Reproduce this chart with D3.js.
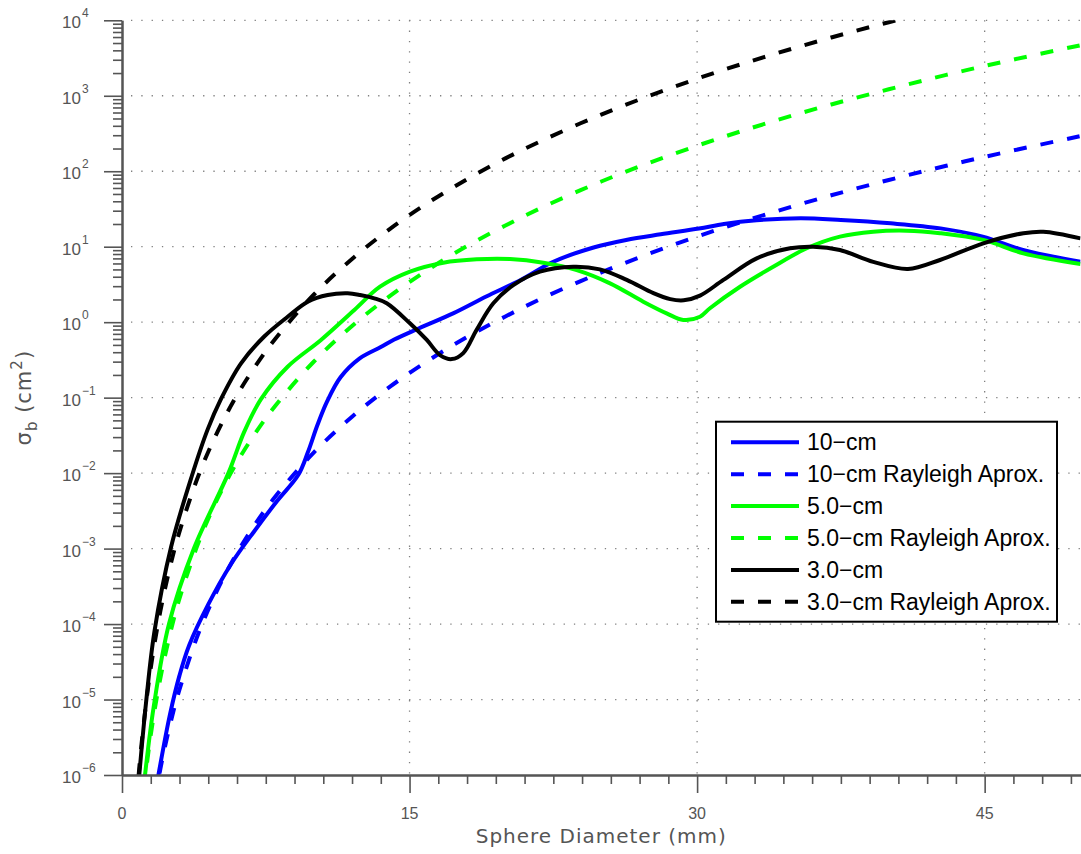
<!DOCTYPE html>
<html>
<head>
<meta charset="utf-8">
<script src="https://cdn.jsdelivr.net/npm/d3@7"></script>
<style>
  html, body { margin: 0; padding: 0; background: #fff; }
  svg { display: block; }
</style>
</head>
<body>
<svg id="chart" width="1081" height="854"></svg>
<script>
// Backscattering cross section of water spheres: Mie solution vs Rayleigh approximation

// Mie solution, 10-cm wavelength
const mieD10 = [1.5, 1.9, 2.5, 3.0, 3.5, 4.5, 5.7, 6.9, 8.1, 9.2, 9.7, 10.2, 10.7, 11.4, 12.4, 13.5, 14.2, 15.5, 17.3, 19.0, 20.8, 22.5, 24.6, 26.3, 28.1, 30.1, 31.4, 33.1, 35.4, 37.5, 40.1, 42.7, 44.9, 47.0, 50.0];
const mieSigma10 = [2.5e-7, 1.0e-6, 6.3e-6, 2.09e-5, 5.2e-5, 1.82e-4, 6.3e-4, 1.70e-3, 4.3e-3, 9.5e-3, 0.0190, 0.0437, 0.0891, 0.186, 0.331, 0.468, 0.589, 0.832, 1.32, 2.19, 3.63, 6.31, 9.77, 12.3, 14.6, 17.4, 20.0, 22.4, 23.8, 22.6, 20.4, 17.5, 13.6, 9.04, 6.31];

// Mie solution, 5.0-cm wavelength
const mieD5 = [1.0, 1.2, 1.65, 2.45, 3.75, 5.55, 6.38, 7.25, 8.64, 10.38, 12.12, 13.46, 15.02, 16.76, 18.5, 20.24, 21.98, 23.72, 25.46, 27.19, 28.41, 29.28, 30.15, 30.67, 32.24, 33.97, 35.72, 37.45, 39.19, 40.93, 42.67, 44.93, 47.02, 50.0];
const mieSigma5 = [3.2e-7, 1.0e-6, 7.9e-6, 1.0e-4, 1.0e-3, 0.0100, 0.0355, 0.0955, 0.257, 0.581, 1.45, 2.95, 4.67, 6.14, 6.81, 6.87, 6.14, 4.90, 3.27, 1.87, 1.31, 1.07, 1.18, 1.53, 2.95, 5.43, 9.53, 13.6, 15.8, 16.3, 15.1, 12.3, 8.17, 5.89];

// Mie solution, 3.0-cm wavelength
const mieD3 = [0.7, 0.9, 1.25, 1.69, 2.56, 3.65, 4.47, 5.16, 6.21, 7.42, 8.64, 9.69, 10.73, 11.77, 12.42, 13.16, 13.81, 15.02, 15.9, 16.59, 17.2, 17.8, 18.5, 19.37, 20.41, 21.8, 23.54, 24.93, 26.33, 27.72, 28.6, 29.3, 30.15, 31.37, 33.11, 34.85, 36.06, 37.45, 39.19, 41.0, 42.67, 44.93, 47.02, 48.06, 50.0];
const mieSigma3 = [2.5e-7, 1.0e-6, 8.9e-6, 7.9e-5, 1.05e-3, 9.3e-3, 0.038, 0.0955, 0.285, 0.646, 1.18, 1.87, 2.29, 2.41, 2.29, 2.07, 1.78, 0.966, 0.581, 0.367, 0.324, 0.389, 0.794, 1.78, 3.09, 4.67, 5.43, 5.01, 3.63, 2.42, 2.02, 1.95, 2.25, 3.63, 7.01, 9.53, 10.0, 9.04, 6.31, 5.07, 6.67, 11.1, 15.1, 15.8, 12.9];

// Rayleigh approximation, sampled on a shared diameter grid (mm)
const rayleighD = [0.5, 0.7, 1, 1.5, 2, 2.5, 3, 4, 5, 6, 7, 8, 10, 12, 14, 16, 18, 20, 22, 25, 28, 31, 34, 37, 40, 43, 46, 50];
const raySigma10 = [2.92e-10, 2.20e-9, 1.87e-8, 2.13e-7, 1.20e-6, 4.56e-6, 1.36e-5, 7.66e-5, 2.92e-4, 8.73e-4, 2.20e-3, 4.90e-3, 0.0187, 0.0558, 0.141, 0.313, 0.635, 1.19, 2.12, 4.56, 9.02, 16.6, 28.8, 48.0, 76.6, 118, 177, 292];
const raySigma5 = [4.68e-9, 3.52e-8, 2.99e-7, 3.40e-6, 1.91e-5, 7.29e-5, 2.18e-4, 1.22e-3, 4.68e-3, 0.0140, 0.0352, 0.0783, 0.299, 0.893, 2.25, 5.02, 10.2, 19.1, 33.9, 73.1, 144, 265, 462, 767, 1220, 1890, 2830, 4670];
const raySigma3 = [3.61e-8, 2.72e-7, 2.31e-6, 2.62e-5, 1.48e-4, 5.62e-4, 1.68e-3, 9.44e-3, 0.0361, 0.108, 0.271, 0.604, 2.31, 6.89, 17.4, 38.7, 78.3, 148, 261, 564, 1110, 2050, 3560, 5920, 9440, 14600, 21800, 36000];

// Axis ticks
const xMajorTicks = [0, 15, 30, 45];
const xMinorStep = 1.5;
const yDecadeExponents = [-6, -5, -4, -3, -2, -1, 0, 1, 2, 3, 4];

const seriesNames = ["10\u2212cm", "10\u2212cm Rayleigh Aprox.", "5.0\u2212cm", "5.0\u2212cm Rayleigh Aprox.", "3.0\u2212cm", "3.0\u2212cm Rayleigh Aprox."];
const seriesColors = ["#0000ff", "#0000ff", "#00ff00", "#00ff00", "#000000", "#000000"];
const seriesDashed = [false, true, false, true, false, true];

const series = [
  { x: mieD10, y: mieSigma10 },
  { x: rayleighD, y: raySigma10 },
  { x: mieD5, y: mieSigma5 },
  { x: rayleighD, y: raySigma5 },
  { x: mieD3, y: mieSigma3 },
  { x: rayleighD, y: raySigma3 }
].map((s, i) => ({
  name: seriesNames[i], color: seriesColors[i], dashed: seriesDashed[i],
  points: s.x.map((d, j) => [d, s.y[j]])
}));

const svg = d3.select("#chart");
const plotLeft = 122, plotRight = 1080.5, plotTop = 20.3, plotBottom = 775;

const x = d3.scaleLinear().domain([0, 50]).range([plotLeft, plotRight]);
const y = d3.scaleLog().domain([1e-6, 1e4]).range([plotBottom, plotTop]);

const axisColor = "#555555";
const tickFont = "'Liberation Sans', Arial, sans-serif";
const titleFont = "'DejaVu Sans', sans-serif";
const DASH = "13,14";

// Dotted grid
const grid = svg.append("g").attr("stroke", "#808080").attr("stroke-width", 1.3)
  .attr("stroke-dasharray", "1.3,9");
yDecadeExponents.slice(1).forEach(e => {
  grid.append("line").attr("x1", plotLeft + 9).attr("x2", plotRight)
    .attr("y1", y(Math.pow(10, e))).attr("y2", y(Math.pow(10, e)));
});
xMajorTicks.slice(1).forEach(v => {
  grid.append("line").attr("x1", x(v)).attr("x2", x(v))
    .attr("y1", plotTop).attr("y2", plotBottom);
});

// Curves
svg.append("defs").append("clipPath").attr("id", "plotClip")
  .append("rect").attr("x", plotLeft).attr("y", plotTop)
  .attr("width", plotRight - plotLeft).attr("height", plotBottom - plotTop);

const line = d3.line()
  .x(d => x(d[0]))
  .y(d => y(d[1]))
  .curve(d3.curveCatmullRom.alpha(0.5));

const curves = svg.append("g").attr("clip-path", "url(#plotClip)");
series.forEach(s => {
  curves.append("path")
    .attr("d", line(s.points))
    .attr("fill", "none")
    .attr("stroke", s.color)
    .attr("stroke-width", 4)
    .attr("stroke-linejoin", "round")
    .attr("stroke-dasharray", s.dashed ? DASH : null);
});

// Y axis
const yMinor = [];
yDecadeExponents.slice(0, -1).forEach(e => {
  for (let m = 2; m <= 9; m++) yMinor.push(m * Math.pow(10, e));
});
const yAxisMajor = svg.append("g").attr("transform", `translate(${plotLeft},0)`)
  .call(d3.axisLeft(y).tickValues(yDecadeExponents.map(e => Math.pow(10, e)))
    .tickSize(18).tickSizeOuter(0).tickFormat(""));
const yAxisMinor = svg.append("g").attr("transform", `translate(${plotLeft},0)`)
  .call(d3.axisLeft(y).tickValues(yMinor).tickSize(9).tickSizeOuter(0).tickFormat(""));

// X axis
const xMinor = d3.range(0, 50 + 1e-9, xMinorStep).filter(v => !xMajorTicks.includes(v) && v < 50);
const xAxisMajor = svg.append("g").attr("transform", `translate(0,${plotBottom})`)
  .call(d3.axisBottom(x).tickValues(xMajorTicks).tickSize(18).tickSizeOuter(0).tickFormat(""));
const xAxisMinor = svg.append("g").attr("transform", `translate(0,${plotBottom})`)
  .call(d3.axisBottom(x).tickValues(xMinor).tickSize(9).tickSizeOuter(0).tickFormat(""));

[yAxisMajor, yAxisMinor, xAxisMajor, xAxisMinor].forEach(g => {
  g.selectAll("line").attr("stroke", axisColor).attr("stroke-width", 1.6);
  g.select(".domain").attr("stroke", axisColor).attr("stroke-width", 2);
});

// Tick labels
xMajorTicks.forEach(v => {
  svg.append("text").attr("x", x(v)).attr("y", 819)
    .attr("text-anchor", "middle").attr("font-family", tickFont)
    .attr("font-size", 16).attr("fill", axisColor).text(v);
});
yDecadeExponents.forEach(e => {
  const t = svg.append("text").attr("x", 62).attr("y", y(Math.pow(10, e)) + 8)
    .attr("font-family", tickFont).attr("font-size", 17).attr("fill", axisColor);
  t.append("tspan").text("10");
  t.append("tspan").attr("dy", -11).attr("dx", 1).attr("font-size", 12)
    .text(e < 0 ? "\u2212" + (-e) : String(e));
});

// Axis titles
svg.append("text").attr("x", (plotLeft + plotRight) / 2).attr("y", 843)
  .attr("text-anchor", "middle").attr("font-family", titleFont)
  .attr("font-size", 20).attr("letter-spacing", 1).attr("fill", axisColor)
  .text("Sphere Diameter (mm)");

const yTitle = svg.append("text")
  .attr("transform", `translate(31,${(plotTop + plotBottom) / 2}) rotate(-90)`)
  .attr("text-anchor", "middle").attr("font-family", titleFont)
  .attr("font-size", 21).attr("letter-spacing", 1).attr("fill", axisColor);
yTitle.append("tspan").text("\u03c3");
yTitle.append("tspan").attr("dy", 6).attr("font-size", 15).text("b");
yTitle.append("tspan").attr("dy", -6).text(" (cm");
yTitle.append("tspan").attr("dy", -9).attr("font-size", 15).text("2");
yTitle.append("tspan").attr("dy", 9).text(")");

// Legend
const legend = svg.append("g");
legend.append("rect").attr("x", 716).attr("y", 421.7).attr("width", 341).attr("height", 200)
  .attr("fill", "#fff").attr("stroke", "#000").attr("stroke-width", 2);
series.forEach((s, i) => {
  const cy = 442.3 + i * 31.9;
  legend.append("line").attr("x1", 731).attr("x2", 799).attr("y1", cy).attr("y2", cy)
    .attr("stroke", s.color).attr("stroke-width", 4)
    .attr("stroke-dasharray", s.dashed ? DASH : null);
  legend.append("text").attr("x", 807).attr("y", cy + 8)
    .attr("font-family", "'Liberation Sans', Arial, sans-serif").attr("font-size", 23)
    .attr("fill", "#000").text(s.name);
});
</script>
</body>
</html>
